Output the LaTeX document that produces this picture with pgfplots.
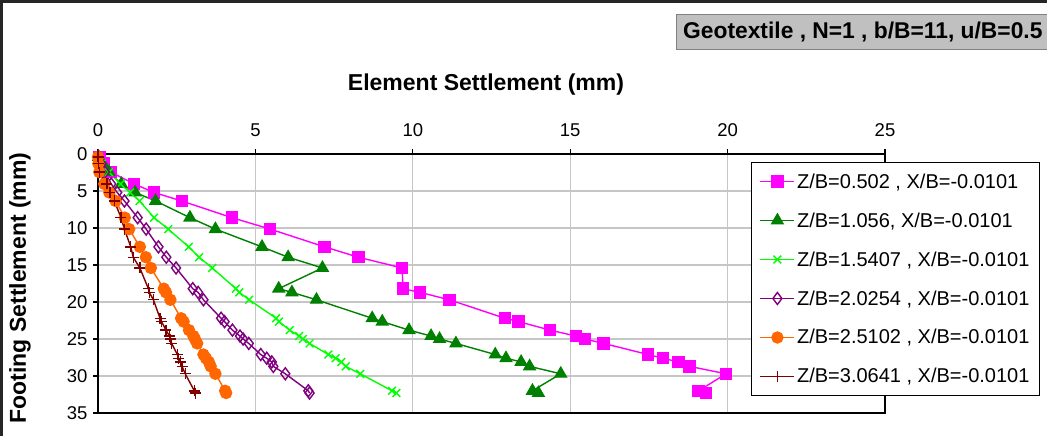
\documentclass[border=0pt]{standalone}
\usepackage{pgfplots}
\usepackage{pgfplotstable}
\pgfplotsset{compat=1.18}
\usepackage{fontspec}
\setmainfont{Liberation Sans}
\definecolor{cPink}{HTML}{FF00FF}
\definecolor{cGreen}{HTML}{008000}
\definecolor{cLGreen}{HTML}{00FF00}
\definecolor{cPurple}{HTML}{800080}
\definecolor{cOrange}{HTML}{FF6600}
\definecolor{cRed}{HTML}{800000}
\definecolor{cTitle}{HTML}{C0C0C0}
\pgfplotstableread{
y      p     g     lg    pu    o     r
0.4    0.05  0.02  0.02  0.02  0.00  0.00
1.3    0.17  0.15  0.12  0.10  0.01  0.02
2.45   0.41  0.35  0.35  0.22  0.04  0.05
4.05   1.15  0.74  0.72  0.42  0.20  0.28
5.2    1.78  1.18  1.02  0.61  0.36  0.38
6.35   2.66  1.83  1.32  0.84  0.56  0.52
8.6    4.25  2.92  1.78  1.26  0.85  0.73
10.15  5.47  3.73  2.23  1.53  0.99  0.84
12.55  7.20  5.21  2.88  1.92  1.33  1.04
13.95  8.27  6.04  3.21  2.17  1.52  1.12
15.4   9.66  7.13  3.63  2.48  1.68  1.33
18.2   9.69  5.74  4.38  3.01  2.09  1.60
18.7   10.23 6.16  4.49  3.18  2.16  1.63
19.7   11.16 6.94  4.80  3.35  2.30  1.76
22.2   12.93 8.71  5.66  3.91  2.64  1.97
22.65  13.36 9.03  5.75  4.02  2.72  2.02
23.8   14.36 9.88  6.09  4.27  2.89  2.16
24.6   15.18 10.58 6.39  4.51  3.03  2.27
25.0   15.47 10.85 6.51  4.61  3.08  2.31
25.6   16.06 11.37 6.72  4.79  3.15  2.34
27.1   17.48 12.62 7.32  5.17  3.35  2.52
27.6   17.94 12.96 7.55  5.36  3.43  2.56
28.1   18.44 13.44 7.73  5.52  3.52  2.63
28.7   18.79 13.71 7.87  5.57  3.58  2.67
29.7   19.95 14.70 8.33  5.95  3.73  2.77
32.0   19.08 13.80 9.34  6.68  4.04  3.06
32.3   19.32 13.99 9.48  6.72  4.07  3.09
}\data
\begin{document}
\begin{tikzpicture}[x=1pt,y=1pt]
\useasboundingbox (0,0) rectangle (1047,436);
\fill[white] (0,0) rectangle (1047,436);
\draw[line width=2.5pt, black!85] (1.5,0) -- (1.5,434.5) -- (1047,434.5);
\draw[fill=cTitle, draw=gray, line width=1pt] (676,386) rectangle (1052,421);
\node[anchor=west, font=\bfseries\fontsize{22.8}{26}\selectfont, inner sep=0pt] at (683,404) {Geotextile , N=1 , b/B=11, u/B=0.5};
\node[font=\bfseries\fontsize{23}{27}\selectfont] at (486,351) {Element Settlement (mm)};
\node[font=\bfseries\fontsize{23}{27}\selectfont, rotate=90] at (20,148) {Footing Settlement (mm)};
\begin{axis}[
  at={(98pt,23pt)}, anchor=south west,
  scale only axis, width=787pt, height=259pt,
  xmin=0, xmax=25, ymin=0, ymax=35, y dir=reverse,
  xtick={0,5,...,25}, ytick={0,5,...,35},
  xtick pos=right, xticklabel pos=right, ytick pos=left,
  tick align=outside, major tick length=5pt,
  tick style={black, line width=1.2pt},
  grid=major, grid style={gray!45, line width=1.2pt},
  axis line style={black, line width=1.6pt},
  /pgf/number format/assume math mode=true,
  ticklabel style={font=\fontsize{18.5}{21}\selectfont},
  xticklabel style={yshift=9pt},
  yticklabel style={xshift=-2pt},
  legend style={at={(0.830,0.969)}, anchor=north west, draw=black, line width=1pt, fill=white,
    font=\fontsize{20}{23}\selectfont, row sep=19pt, inner xsep=8pt, inner ysep=9pt,
    /tikz/every even column/.append style={column sep=4pt}},
  legend cell align=left,
  legend image code/.code={\draw[mark repeat=2,mark phase=2,#1] plot coordinates {(0pt,0pt) (17pt,0pt) (34pt,0pt)};},
  every axis plot/.append style={line width=1.4pt},
]
\addplot[color=cPink, mark=square*, mark size=5.5pt, mark options={fill=cPink}] table[x=p, y=y] {\data};
\addlegendentry{Z/B=0.502 , X/B=-0.0101}
\addplot[color=cGreen, mark=triangle*, mark size=6.5pt, mark options={fill=cGreen}] table[x=g, y=y] {\data};
\addlegendentry{Z/B=1.056, X/B=-0.0101}
\addplot[color=cLGreen, mark=x, mark size=5.5pt] table[x=lg, y=y] {\data};
\addlegendentry{Z/B=1.5407 , X/B=-0.0101}
\addplot[color=cPurple, mark=diamond, mark size=6pt, mark options={fill=white}] table[x=pu, y=y] {\data};
\addlegendentry{Z/B=2.0254 , X/B=-0.0101}
\addplot[color=cOrange, mark=*, mark size=5.5pt, mark options={fill=cOrange}] table[x=o, y=y] {\data};
\addlegendentry{Z/B=2.5102 , X/B=-0.0101}
\addplot[color=cRed, mark=+, mark size=5.5pt] table[x=r, y=y] {\data};
\addlegendentry{Z/B=3.0641 , X/B=-0.0101}
\end{axis}
\end{tikzpicture}
\end{document}
